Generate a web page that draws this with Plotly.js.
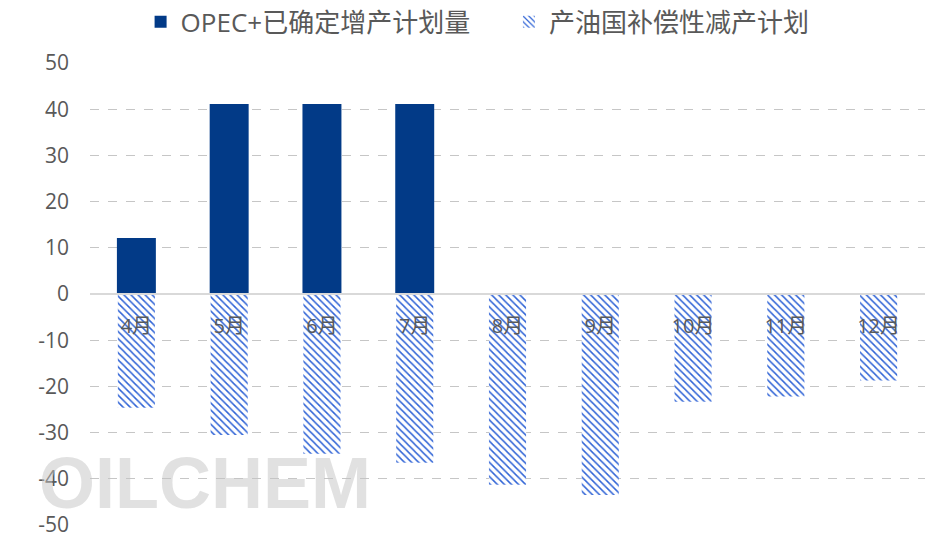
<!DOCTYPE html>
<html>
<head>
<meta charset="utf-8">
<script src="https://cdn.plot.ly/plotly-3.0.1.min.js"></script>
<style>html,body{margin:0;padding:0;background:#fff}#chart{width:942px;height:548px}</style>
</head>
<body>
<div id="chart"></div>
<script>
const months = ['4月','5月','6月','7月','8月','9月','10月','11月','12月'];
const increasePlan = [12.1, 41.1, 41.1, 41.1, null, null, null, null, null];
const compensationCut = [-24.6, -30.5, -34.6, -36.5, -41.3, -43.5, -23.3, -22.2, -18.7];
const yTicks = [-50, -40, -30, -20, -10, 0, 10, 20, 30, 40, 50];
const seriesNames = ['OPEC+已确定增产计划量', '产油国补偿性减产计划'];

const FONT = 'Open Sans, Noto Sans CJK SC, sans-serif';
const PAD = '\u00a0\u00a0\u00a0\u00a0\u00a0';

const traces = [
  {
    type: 'bar', x: months, y: increasePlan, name: seriesNames[0] + PAD,
    width: 0.42,
    marker: {color: '#023A87', line: {width: 0}}
  },
  {
    type: 'bar', x: months, y: compensationCut, name: seriesNames[1],
    width: 0.40,
    marker: {
      color: '#ffffff',
      line: {width: 0},
      pattern: {shape: '\\', fgcolor: '#2F63D6', bgcolor: '#ffffff', size: 5, solidity: 0.3}
    }
  }
];

const layout = {
  width: 942, height: 548,
  margin: {l: 90, r: 17, t: 63, b: 23},
  paper_bgcolor: '#ffffff', plot_bgcolor: '#ffffff',
  barmode: 'relative',
  showlegend: true,
  legend: {
    orientation: 'h', x: 0.507, xanchor: 'center', xref: 'container',
    y: 0.96, yanchor: 'middle', yref: 'container',
    font: {family: FONT, size: 26, color: '#595959'},
    itemwidth: 30, traceorder: 'normal'
  },
  font: {family: FONT, color: '#595959'},
  xaxis: {
    type: 'category',
    anchor: 'free', position: 0.5,
    showline: true, linecolor: '#d9d9d9', linewidth: 2,
    showgrid: false, ticks: '', zeroline: false,
    tickfont: {family: FONT, size: 20, color: '#595959'},
    ticklabelstandoff: 14,
    fixedrange: true
  },
  yaxis: {
    range: [-50, 50],
    tickvals: yTicks,
    ticktext: yTicks.map(String),
    showgrid: true, gridcolor: '#c6c6c6', griddash: 'dash', gridwidth: 1,
    zeroline: false, showline: false, ticks: '',
    tickfont: {family: FONT, size: 21, color: '#595959'},
    ticklabelstandoff: 20,
    fixedrange: true
  },
  annotations: [
    {
      text: '<b>OILCHEM</b>', xref: 'paper', yref: 'paper', x: -0.063, y: 0.0,
      xanchor: 'left', yanchor: 'bottom', showarrow: false,
      font: {family: 'Liberation Sans, Arial, sans-serif', size: 72, color: 'rgba(195,195,195,0.5)'}
    }
  ]
};

Plotly.newPlot('chart', traces, layout, {displayModeBar: false, staticPlot: true});
</script>
</body>
</html>
